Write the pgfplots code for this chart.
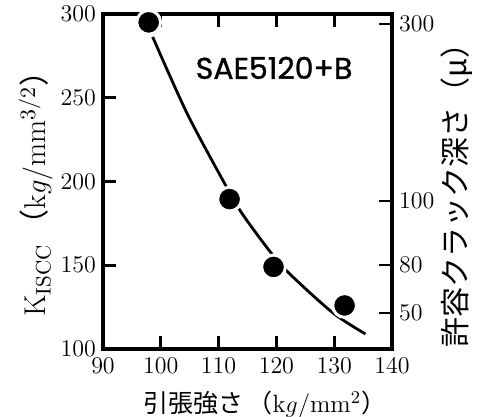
\documentclass[border=0pt]{standalone}
\usepackage{fontspec}
\usepackage{pgfplots}
\pgfplotsset{compat=1.18}
\newfontfamily\cjk{Noto Sans CJK JP}
\newfontfamily\pop[FakeBold=1]{Poppins}
\begin{document}
\begin{tikzpicture}
\begin{axis}[
  name=ax,
  scale only axis, width=144.5pt, height=167.5pt,
  xmin=90, xmax=140, ymin=100, ymax=300,
  xtick={90,100,110,120,130,140},
  ytick={100,150,200,250,300},
  xtick pos=both, ytick pos=left,
  tick align=inside, major tick length=6.5pt,
  axis line style={line width=1.6pt},
  every tick/.style={line width=1.4pt, black},
  tick label style={font=\fontsize{12}{14}\selectfont},
  xticklabel style={yshift=-1pt},
  clip=false,
  xlabel={\fontsize{12.5}{14}\selectfont{\cjk 引張強さ\,（}k$g$/mm$^2${\cjk ）}},
  xlabel style={at={(rel axis cs:0.56,-0.167)}, anchor=center},
  ylabel={\fontsize{15}{18}\selectfont K$_{\mathrm{ISCC}}$\,{\cjk （}k$g$/mm$^{3/2}${\cjk ）}},
  ylabel style={at={(rel axis cs:-0.232,0.485)}, anchor=center},
]
\addplot[black, line width=1.4pt, smooth, tension=0.5] coordinates {
(98.6,286.3) (104.5,241) (110.9,199.7) (114,181.2) (119.1,157.3) (122.5,144.2) (129.8,121.5) (135.4,109)};
\addplot[only marks, mark=*, mark size=5.95pt, mark options={fill=black, draw=white, line width=1.5pt}] coordinates {
(97.9,295) (111.9,189.5) (119.5,149) (131.8,126)};
\node[font=\pop\fontsize{15}{18}\selectfont] at (axis cs:119.6,267.8) {SAE5120+B};
\coordinate (bl) at (rel axis cs:0,0);
\coordinate (tr) at (rel axis cs:1,1);
\end{axis}
\begin{axis}[
  scale only axis, width=144.5pt, height=167.5pt,
  xmin=90, xmax=140, ymin=100, ymax=300,
  axis x line=none, axis y line*=right,
  ytick={294,188.4,150.1,121.5},
  yticklabels={300,100,80,50},
  tick align=inside, major tick length=6.5pt,
  axis line style={line width=1.6pt},
  every tick/.style={line width=1.4pt, black},
  tick label style={font=\fontsize{12}{14}\selectfont},
  ylabel={\fontsize{15}{17}\selectfont\cjk 許容クラック深さ（\textit{μ}）},
  ylabel style={at={(rel axis cs:1.225,0.48)}, anchor=center},
]
\end{axis}
\pgfresetboundingbox
\path[use as bounding box] ([shift={(-51.5pt,-33.5pt)}]bl) rectangle ([shift={(44pt,7pt)}]tr);
\end{tikzpicture}
\end{document}
